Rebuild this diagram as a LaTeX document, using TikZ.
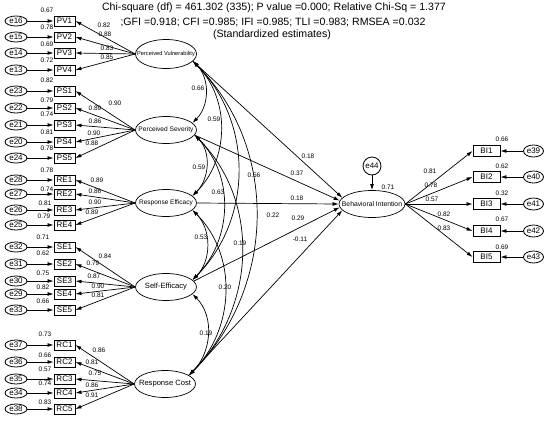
\documentclass[tikz,border=0pt]{standalone}
\usepackage{fontspec}
\setmainfont{Liberation Sans}
\usetikzlibrary{shapes.geometric,arrows.meta}
\newcommand\numlab[3]{\node[num] (L#1x#2) at (#1,-#2) {#3};}
\begin{document}
\begin{tikzpicture}[x=1pt,y=1pt,
  lat/.style={ellipse,draw,line width=0.7pt,minimum width=61pt,minimum height=27pt,inner sep=0pt},
  ind/.style={rectangle,draw,line width=0.9pt,minimum width=21pt,minimum height=10pt,inner sep=0pt,font=\fontsize{8}{9}\selectfont},
  err/.style={ellipse,draw,line width=0.8pt,minimum width=22pt,minimum height=10pt,inner sep=-0.5pt,font=\fontsize{8}{9}\selectfont},
  num/.style={font=\fontsize{6.5}{7}\selectfont,inner sep=0pt},
  arr/.style={line width=0.7pt,-{Latex[length=6pt,width=3.8pt]}},
  cov/.style={line width=0.7pt,{Latex[length=6pt,width=3.8pt]}-{Latex[length=6pt,width=3.8pt]}},
  ttl/.style={font=\fontsize{10.6}{12}\selectfont,inner sep=0pt}
]
\useasboundingbox (0,0) rectangle (550,-421);

% title
\node[ttl] (t1) at (274,-8) {Chi-square (df) = 461.302 (335); P value =0.000; Relative Chi-Sq = 1.377};
\node[ttl] (t2) at (273,-22) {;GFI =0.918; CFI =0.985; IFI =0.985; TLI =0.983; RMSEA =0.032};
\node[ttl] (t3) at (272,-35) {(Standardized estimates)};

% latent variables
\node[lat,minimum height=29pt,label={[font=\fontsize{5.7}{6}\selectfont,inner sep=0pt]center:Perceived Vulnerability}] (PV) at (166,-54) {};
\node[lat,label={[font=\fontsize{6.6}{7}\selectfont,inner sep=0pt]center:Perceived Severity}] (PS) at (166,-130) {};
\node[lat,label={[font=\fontsize{6.5}{7}\selectfont,inner sep=0pt]center:Response Efficacy}] (RE) at (166,-203) {};
\node[lat,label={[font=\fontsize{7.6}{8}\selectfont,inner sep=0pt]center:Self-Efficacy}] (SE) at (166,-287) {};
\node[lat,label={[font=\fontsize{7.6}{8}\selectfont,inner sep=0pt]center:Response Cost}] (RC) at (165,-384) {};
\node[lat,minimum width=66pt,label={[font=\fontsize{6.8}{7}\selectfont,inner sep=0pt]center:Behavioral Intention}] (BI) at (372,-204) {};
\node[circle,draw,line width=0.8pt,minimum size=18pt,inner sep=0pt,font=\fontsize{8}{9}\selectfont] (e44) at (372,-166) {e44};

% indicators of the left constructs
\foreach \nm/\yy/\ee/\lv in {PV1/21/e16/PV,PV2/37/e15/PV,PV3/53/e14/PV,PV4/70/e13/PV,
  PS1/91/e23/PS,PS2/108/e22/PS,PS3/125/e21/PS,PS4/142/e20/PS,PS5/158/e24/PS,
  RE1/180/e28/RE,RE2/194/e27/RE,RE3/210/e26/RE,RE4/225/e25/RE,
  SE1/247/e32/SE,SE2/264/e31/SE,SE3/281/e30/SE,SE4/294/e29/SE,SE5/310/e33/SE,
  RC1/345/e37/RC,RC2/362/e36/RC,RC3/379/e35/RC,RC4/393/e34/RC,RC5/409/e38/RC}{
  \node[ind] (\nm) at (64.5,-\yy) {\nm};
  \node[err] (\ee) at (16,-\yy) {\ee};
  \draw[arr] (\ee) -- (\nm);
  \draw[arr] (\lv.west) -- (\nm.east);
}

% indicators of behavioral intention
\foreach \nm/\yy/\ee in {BI1/151/e39,BI2/177/e40,BI3/204/e41,BI4/231/e42,BI5/257/e43}{
  \node[ind,minimum width=27pt,minimum height=11pt] (\nm) at (486.5,-\yy) {\nm};
  \node[err,minimum width=20pt,minimum height=12pt] (\ee) at (533.5,-\yy) {\ee};
  \draw[arr] (\ee) -- (\nm);
  \draw[arr] (BI.east) -- (\nm.west);
}
\draw[arr] (e44) -- (BI);

% structural paths
\draw[arr] (PV.-15) -- (BI.168);
\draw[arr] (PS.-10) -- (BI.174);
\draw[arr] (RE.east) -- (BI.west);
\draw[arr] (SE.12) -- (BI.186);
\draw[arr] (RC.20) -- (BI.192);

% covariances
\draw[cov] (PV.-15) to[out=-45,in=45] (PS.15);
\draw[cov] (PV.-15) to[out=-45,in=45] (RE.15);
\draw[cov] (PV.-15) to[out=-45,in=45] (SE.15);
\draw[cov] (PV.-15) to[out=-45,in=45] (RC.20);
\draw[cov] (PS.-10) to[out=-45,in=45] (RE.15);
\draw[cov] (PS.-10) to[out=-45,in=45] (SE.15);
\draw[cov] (PS.-10) to[out=-45,in=45] (RC.20);
\draw[cov] (RE.-15) to[out=-45,in=45] (SE.15);
\draw[cov] (RE.-15) to[out=-45,in=45] (RC.20);
\draw[cov] (SE.-15) to[out=-45,in=45] (RC.20);

% squared multiple correlations
\numlab{47}{10}{0.67}\numlab{47}{27}{0.78}\numlab{47}{44}{0.69}\numlab{47}{60}{0.72}
\numlab{47}{80}{0.82}\numlab{47}{100}{0.79}\numlab{47}{114}{0.74}\numlab{47}{132}{0.81}\numlab{47}{148}{0.78}
\numlab{47}{170}{0.78}\numlab{47}{189}{0.74}\numlab{45}{203}{0.81}\numlab{44}{216}{0.79}
\numlab{43}{237}{0.71}\numlab{43}{253}{0.62}\numlab{43}{273}{0.75}\numlab{43}{287}{0.82}\numlab{43}{301}{0.66}
\numlab{45}{334}{0.73}\numlab{45}{355}{0.66}\numlab{45}{369}{0.57}\numlab{45}{383}{0.74}\numlab{45}{402}{0.83}
\numlab{502}{139}{0.66}\numlab{502}{166}{0.62}\numlab{502}{193}{0.32}\numlab{502}{219}{0.67}\numlab{502}{247}{0.69}
\numlab{388}{187}{0.71}

% loadings
\numlab{104}{25}{0.82}\numlab{105}{34}{0.88}\numlab{107}{48}{0.83}\numlab{107}{57}{0.85}
\numlab{115}{103}{0.90}\numlab{95}{108}{0.89}\numlab{95}{121}{0.86}\numlab{94}{133}{0.90}\numlab{92}{143}{0.88}
\numlab{97}{180}{0.89}\numlab{95}{191}{0.86}\numlab{95}{202}{0.90}\numlab{92}{212}{0.89}
\numlab{105}{256}{0.84}\numlab{93}{263}{0.79}\numlab{94}{276}{0.87}\numlab{98}{286}{0.90}\numlab{98}{295}{0.81}
\numlab{99}{350}{0.86}\numlab{92}{362}{0.81}\numlab{95}{373}{0.75}\numlab{92}{385}{0.86}\numlab{92}{395}{0.91}
\numlab{430}{171}{0.81}\numlab{431}{185}{0.78}\numlab{432}{199}{0.57}\numlab{444}{214}{0.82}\numlab{444}{228}{0.83}

% path coefficients
\numlab{308}{156}{0.18}\numlab{297}{173}{0.37}\numlab{297}{198}{0.18}\numlab{298}{218}{0.29}\numlab{300}{239}{-0.11}

% covariance labels
\numlab{198}{88}{0.66}\numlab{214}{119}{0.59}\numlab{199}{167}{0.59}\numlab{254}{175}{0.56}\numlab{218}{192}{0.63}
\numlab{273}{215}{0.22}\numlab{201}{237}{0.53}\numlab{240}{243}{0.19}\numlab{225}{287}{0.20}\numlab{206}{333}{0.19}
\end{tikzpicture}
\end{document}
